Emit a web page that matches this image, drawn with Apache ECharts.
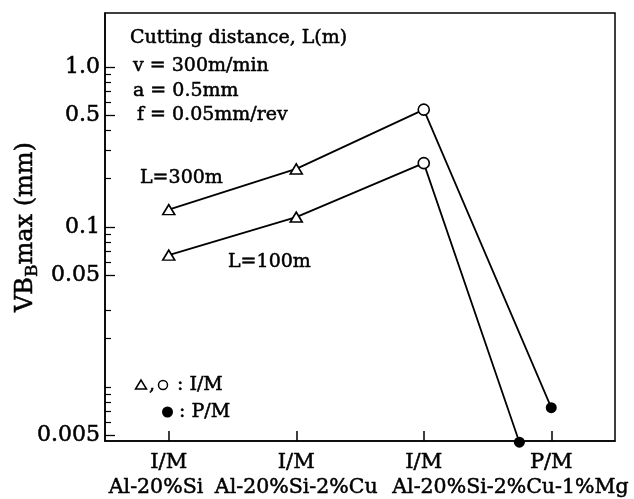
<!DOCTYPE html>
<html>
<head>
<meta charset="utf-8">
<script src="https://cdn.jsdelivr.net/npm/echarts@6/dist/echarts.min.js"></script>
<style>
  html, body { margin: 0; padding: 0; background: #fff; }
  #chart { width: 634px; height: 499px; }
</style>
</head>
<body>
<div id="chart"></div>
<script>
// Flank wear VB_max of tools after cutting I/M and P/M Al-Si alloys
const processTypes = ['I/M', 'I/M', 'I/M', 'P/M'];
const alloys = ['Al-20%Si', 'Al-20%Si-2%Cu', 'Al-20%Si-2%Cu-1%Mg'];

// x index of each alloy/process point, and measured wear (mm)
const x300 = [0, 1, 2, 3];
const wear300 = [0.128, 0.23, 0.54, 0.0074];
const x100 = [0, 1, 2, 2.75];
const wear100 = [0.0665, 0.115, 0.25, 0.0045];
const markerKinds = ['triangle', 'triangle', 'circle', 'dot'];

const yTickValues = [0.005, 0.05, 0.1, 0.5, 1.0];
const yTickLabels = ['0.005', '0.05', '0.1', '0.5', '1.0'];
const yMinorTicks = [0.006, 0.007, 0.008, 0.009, 0.01, 0.02, 0.03,
  0.06, 0.07, 0.08, 0.09, 0.2, 0.3, 0.4, 0.6, 0.7, 0.8, 0.9];

const FONT = 'DejaVu Serif';
const INK = { color: '#000', textBorderColor: '#000', textBorderWidth: 0.5 };
const Y_MIN = 0.00458, Y_MAX = 2.17;

function markerStyle(kind) {
  if (kind === 'triangle') {
    return { symbol: 'triangle', symbolSize: [12, 10],
      itemStyle: { color: '#fff', borderColor: '#000', borderWidth: 1.6 } };
  }
  if (kind === 'circle') {
    return { symbol: 'circle', symbolSize: 11,
      itemStyle: { color: '#fff', borderColor: '#000', borderWidth: 1.6 } };
  }
  return { symbol: 'circle', symbolSize: 11,
    itemStyle: { color: '#000', borderColor: '#000', borderWidth: 0 } };
}

function buildPoints(xs, ys) {
  return xs.map((x, i) => Object.assign({ value: [x, ys[i]] }, markerStyle(markerKinds[i])));
}

function yLabel(v) {
  let best = 0, bestErr = Infinity;
  yTickValues.forEach((t, i) => {
    const err = Math.abs(Math.log(v / t));
    if (err < bestErr) { bestErr = err; best = i; }
  });
  return yTickLabels[best];
}

const alloyLabelPos = [-0.1, 1, 2.68];

const chart = echarts.init(document.getElementById('chart'), null, { renderer: 'canvas' });

const lineSeries = (name, xs, ys) => ({
  name, type: 'line', xAxisIndex: 0, yAxisIndex: 0,
  data: buildPoints(xs, ys),
  lineStyle: { color: '#000', width: 1.8 },
  clip: false, z: 3,
  emphasis: { disabled: true }
});

function note(x, y, text) {
  return { type: 'text', x, y, style: { text, font: '19px "DejaVu Serif"', fill: '#000',
    stroke: '#000', lineWidth: 0.5, verticalAlign: 'middle' } };
}

chart.setOption({
  animation: false,
  backgroundColor: '#fff',
  grid: { left: 105, right: 19, top: 13, bottom: 58, show: true,
    containLabel: false, outerBoundsMode: 'none',
    borderColor: '#000', borderWidth: 1.5, backgroundColor: 'transparent' },
  xAxis: [
    {
      type: 'value', min: -0.5, max: 3.5, position: 'bottom',
      axisLine: { show: true, onZero: false, lineStyle: { color: '#000', width: 1.5 } },
      axisTick: { show: true, inside: true, length: 10, customValues: [0, 1, 2, 3],
        lineStyle: { color: '#000', width: 1.5 } },
      splitLine: { show: false },
      axisLabel: Object.assign({ customValues: [0, 1, 2, 3], margin: 11,
        formatter: v => processTypes[Math.round(v)],
        fontFamily: FONT, fontSize: 21, lineHeight: 21 }, INK)
    },
    {
      type: 'value', min: -0.5, max: 3.5, position: 'bottom',
      axisLine: { show: false, onZero: false }, axisTick: { show: false }, splitLine: { show: false },
      axisLabel: Object.assign({ customValues: alloyLabelPos, margin: 36,
        formatter: v => {
          let idx = 0;
          alloyLabelPos.forEach((p, i) => { if (Math.abs(p - v) < Math.abs(alloyLabelPos[idx] - v)) idx = i; });
          return alloys[idx];
        },
        fontFamily: FONT, fontSize: 20.5, lineHeight: 21 }, INK)
    }
  ],
  yAxis: [
    {
      type: 'log', logBase: 10, min: Y_MIN, max: Y_MAX, position: 'left',
      axisLine: { show: true, onZero: false, lineStyle: { color: '#000', width: 1.5 } },
      axisTick: { show: true, inside: true, length: 10, customValues: yTickValues,
        lineStyle: { color: '#000', width: 1.3 } },
      minorTick: { show: false },
      splitLine: { show: false },
      axisLabel: Object.assign({ customValues: yTickValues, margin: 5, formatter: yLabel,
        fontFamily: FONT, fontSize: 22 }, INK),
      name: '{m|VB}{s|B}{m|max (mm)}',
      nameLocation: 'middle', nameRotate: 90, nameGap: 64, nameMoveOverlap: false,
      nameTextStyle: {
        fontFamily: FONT, color: '#000',
        rich: {
          m: Object.assign({ fontFamily: FONT, fontSize: 24, lineHeight: 30, verticalAlign: 'middle' }, INK),
          s: Object.assign({ fontFamily: FONT, fontSize: 17, lineHeight: 16, verticalAlign: 'bottom' }, INK)
        }
      }
    },
    {
      type: 'log', logBase: 10, min: Y_MIN, max: Y_MAX, position: 'left',
      axisLine: { show: false, onZero: false },
      axisTick: { show: true, inside: true, length: 6, customValues: yMinorTicks,
        lineStyle: { color: '#000', width: 1.2 } },
      splitLine: { show: false },
      axisLabel: { show: false }
    }
  ],
  series: [
    lineSeries('L=300m', x300, wear300),
    lineSeries('L=100m', x100, wear100)
  ],
  graphic: [
    note(130, 38, 'Cutting distance, L(m)'),
    note(133, 66, 'v = 300m/min'),
    note(133, 91, 'a = 0.5mm'),
    note(137, 115, 'f = 0.05mm/rev'),
    note(140, 178, 'L=300m'),
    note(228, 262, 'L=100m'),
    // key: open symbols for I/M, filled dot for P/M
    { type: 'polygon', shape: { points: [[141, 380], [135.5, 389], [146.5, 389]] },
      style: { fill: '#fff', stroke: '#000', lineWidth: 1.5 } },
    note(149, 385, ','),
    { type: 'circle', shape: { cx: 163, cy: 385, r: 4.5 },
      style: { fill: '#fff', stroke: '#000', lineWidth: 1.5 } },
    note(177, 385, ': I/M'),
    { type: 'circle', shape: { cx: 167.5, cy: 412, r: 5.5 },
      style: { fill: '#000', stroke: '#000', lineWidth: 0 } },
    note(179, 412, ': P/M')
  ]
});
</script>
</body>
</html>
